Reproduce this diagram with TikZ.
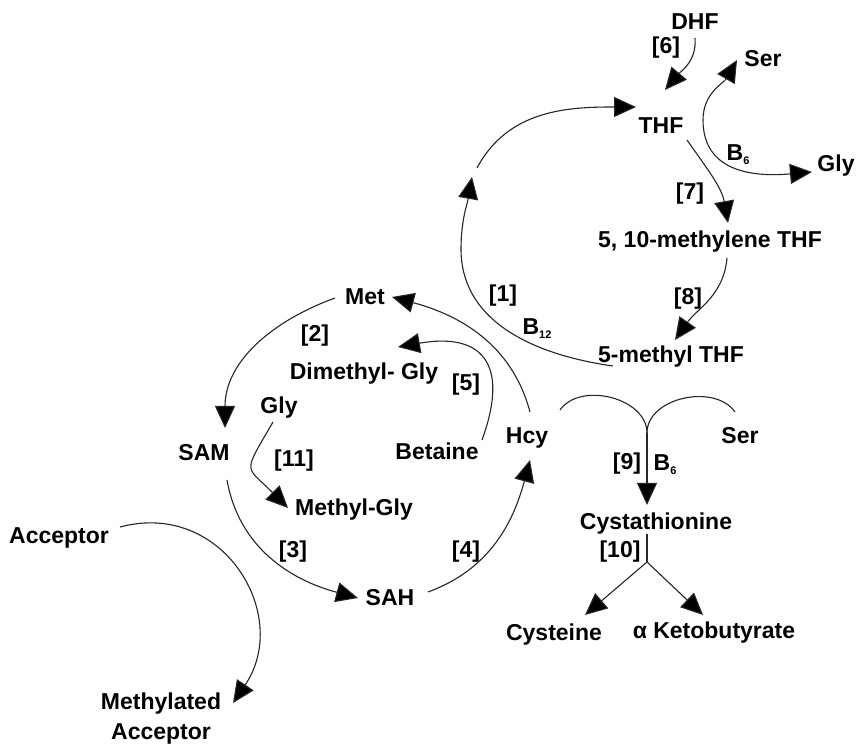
\documentclass[tikz,border=0pt]{standalone}
\usepackage{fontspec}
\setmainfont{Liberation Sans}
\usetikzlibrary{arrows.meta}
\newcommand\Bsub[1]{B\raisebox{-4.5pt}{\fontsize{11}{11}\selectfont #1}}
\begin{document}
\begin{tikzpicture}[x=1pt,y=1pt,
  lab/.style={font=\fontsize{23}{30}\bfseries\selectfont, inner sep=0pt, text height=16.5pt, text depth=0pt, anchor=center},
  conn/.style={line width=1.1pt, draw=black!85},
  arr/.style={conn, -{Triangle[length=22pt,width=20pt,fill=black]}},
  darr/.style={conn, {Triangle[length=22pt,width=20pt,fill=black]}-{Triangle[length=22pt,width=20pt,fill=black]}}]
\fill[white] (0,0) rectangle (857,744);
\useasboundingbox (0,0) rectangle (857,744);

% labels
\node[lab] (dhf) at (695,723) {DHF};
\node[lab] (l6) at (666,699) {[6]};
\node[lab] (sert) at (763,686) {Ser};
\node[lab] (thf) at (661,619) {THF};
\node[lab] (b6a) at (738,592) {\Bsub{6}};
\node[lab] (glyr) at (836,581) {Gly};
\node[lab] (l7) at (690,553) {[7]};
\node[lab] (mthf) at (710,505) {5, 10-methylene THF};
\node[lab] (l8) at (688,448) {[8]};
\node[lab] (l1) at (503,451) {[1]};
\node[lab] (b12) at (537,418) {\Bsub{12}};
\node[lab] (met) at (365,448) {Met};
\node[lab] (m5) at (671,390) {5-methyl THF};
\node[lab] (l2) at (315,411) {[2]};
\node[lab] (dmg) at (364,373) {Dimethyl- Gly};
\node[lab] (l5) at (466,362) {[5]};
\node[lab] (glyl) at (279,339) {Gly};
\node[lab] (sam) at (204,292) {SAM};
\node[lab] (l11) at (294,286) {[11]};
\node[lab] (bet) at (437,293) {Betaine};
\node[lab] (hcy) at (527,309) {Hcy};
\node[lab] (serr) at (740,309) {Ser};
\node[lab] (l9) at (627,283) {[9]};
\node[lab] (b6b) at (665,282) {\Bsub{6}};
\node[lab] (mg) at (354,237) {Methyl-Gly};
\node[lab] (cys) at (656,223) {Cystathionine};
\node[lab] (l10) at (620,195) {[10]};
\node[lab] (acc) at (59,209) {Acceptor};
\node[lab] (l3) at (293,195) {[3]};
\node[lab] (l4) at (466,195) {[4]};
\node[lab] (sah) at (390,147) {SAH};
\node[lab] (cyst) at (554,112) {Cysteine};
\node[lab] (keto) at (714,114) {α Ketobutyrate};
\node[font=\fontsize{23}{30}\bfseries\selectfont, inner sep=0pt, align=center, anchor=base] (macc) at (161,4) {Methylated\\Acceptor};

% connector end points
\coordinate (c6s) at (695,706);   \coordinate (c6e) at (665,654);
\coordinate (sgs) at (737,684);   \coordinate (sgm) at (703,624);  \coordinate (sge) at (812,572);
\coordinate (c7s) at (687,604);   \coordinate (c7e) at (728,521);
\coordinate (c8s) at (727,486);   \coordinate (c8e) at (675,404);
\coordinate (a1s) at (613,378);   \coordinate (a1m) at (461,495);  \coordinate (a1e) at (472,567);
\coordinate (a2s) at (477,576);   \coordinate (a2e) at (636,637);
\coordinate (hms) at (530,332);   \coordinate (hme) at (392,447);
\coordinate (c2s) at (335,446);   \coordinate (c2e) at (225,316);
\coordinate (c3s) at (227,264);   \coordinate (c3e) at (358,146);
\coordinate (c4s) at (428,152);   \coordinate (c4e) at (530,284);
\coordinate (c5s) at (482,304);   \coordinate (c5e) at (398,397);
\coordinate (c11s) at (273,322);  \coordinate (c11e) at (288,236);
\coordinate (cas) at (120,217);   \coordinate (cae) at (233,41);
\coordinate (c9h) at (560,334);   \coordinate (c9s) at (735,332);
\coordinate (c9j) at (647,311);   \coordinate (c9e) at (647,239);
\coordinate (c10s) at (647,210);  \coordinate (c10j) at (647,182);
\coordinate (c10a) at (585,129);  \coordinate (c10b) at (703,129);

% connectors
\draw[arr] (c6s) to[out=-85,in=50] (c6e);
\draw[darr] (sgs) to[out=240,in=90] (sgm) to[out=-90,in=185,looseness=1.15] (sge);
\draw[arr] (c7s) to[out=-55,in=100] (c7e);
\draw[arr] (c8s) to[out=-95,in=55] (c8e);
\draw[arr] (a1s) to[out=172,in=-90] (a1m) to[out=90,in=-100] (a1e);
\draw[arr] (a2s) to[out=62,in=180] (a2e);
\draw[arr] (hms) to[out=105,in=-15] (hme);
\draw[arr] (c2s) to[out=200,in=90] (c2e);
\draw[arr] (c3s) to[out=-80,in=165] (c3e);
\draw[arr] (c4s) to[out=20,in=-105] (c4e);
\draw[arr] (c5s) to[out=70,in=10,looseness=1.7] (c5e);
\draw[arr] (c11s) to[out=-120,in=135,looseness=1.8] (c11e);
\draw[arr] (cas) to[out=15,in=56,looseness=1.3] (cae);
\draw[conn] (c9h) to[out=55,in=90] (c9j);
\draw[conn] (c9s) to[out=125,in=90] (c9j);
\draw[arr] (c9j) -- (c9e);
\draw[conn] (c10s) -- (c10j);
\draw[arr] (c10j) -- (c10a);
\draw[arr] (c10j) -- (c10b);
\end{tikzpicture}
\end{document}
